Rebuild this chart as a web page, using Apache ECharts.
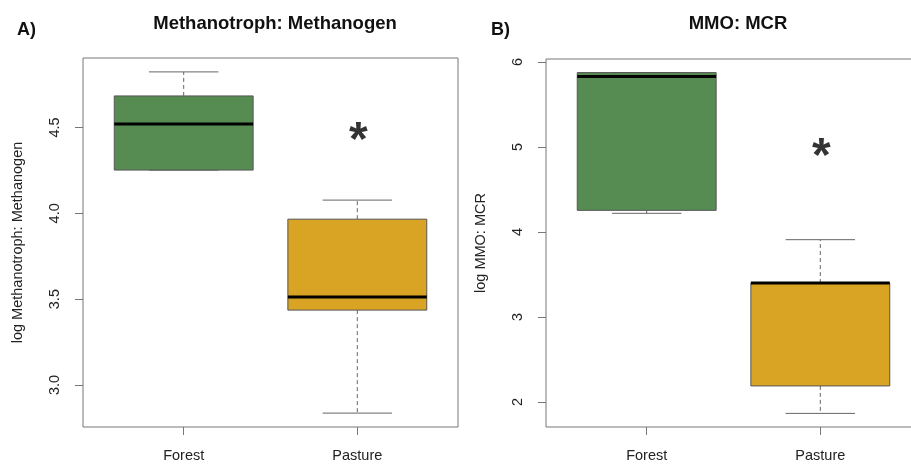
<!DOCTYPE html>
<html>
<head>
<meta charset="utf-8">
<script src="https://cdn.jsdelivr.net/npm/echarts@6/dist/echarts.min.js"></script>
<style>
html,body{margin:0;padding:0;background:#fff;}
#chart{width:911px;height:466px;}
</style>
</head>
<body>
<div id="chart"></div>
<script>
// ---- data ----
const categories = ['Forest', 'Pasture'];
// [lower whisker, Q1, median, Q3, upper whisker]
const ratioForest = [4.252, 4.252, 4.520, 4.684, 4.824];
const ratioPasture = [2.836, 3.436, 3.512, 3.966, 4.077];
const ratioOutliers = [[1, 3.337]];
const mmoForest = [4.22, 4.255, 5.83, 5.875, 5.875];
const mmoPasture = [1.867, 2.19, 3.40, 3.40, 3.91];
const ratioTicks = [3.0, 3.5, 4.0, 4.5];
const mmoTicks = [2, 3, 4, 5, 6];
const ratioRange = [2.755, 4.905];
const mmoRange = [1.707, 6.035];
const starsRatio = [[2, 4.5]];
const starsMMO = [[2, 5.04]];
const titles = ['Methanotroph: Methanogen', 'MMO: MCR'];
const yNames = ['log Methanotroph: Methanogen', 'log MMO: MCR'];
const panelTags = ['A)', 'B)'];

// ---- styling ----
const FONT = 'Liberation Sans, Arial, Helvetica, sans-serif';
const boxColors = ['#568b52', '#d9a423'];
const frameColor = '#777';

function boxRows(a, b) {
  return [[1].concat(a), [2].concat(b)];
}

function renderBox(params, api) {
  const x = api.value(0);
  const low = api.coord([x, api.value(1)]);
  const q1 = api.coord([x, api.value(2)]);
  const med = api.coord([x, api.value(3)]);
  const q3 = api.coord([x, api.value(4)]);
  const high = api.coord([x, api.value(5)]);
  const w = api.size([0.8, 0])[0];
  const cw = api.size([0.4, 0])[0];
  const cx = med[0];
  const color = boxColors[Math.round(x) - 1];
  const wStyle = { stroke: '#666', lineWidth: 1, lineDash: [4, 3] };
  const cStyle = { stroke: '#666', lineWidth: 1 };
  return {
    type: 'group',
    children: [
      { type: 'line', shape: { x1: cx, y1: q3[1], x2: cx, y2: high[1] }, style: wStyle },
      { type: 'line', shape: { x1: cx, y1: q1[1], x2: cx, y2: low[1] }, style: wStyle },
      { type: 'line', shape: { x1: cx - cw / 2, y1: high[1], x2: cx + cw / 2, y2: high[1] }, style: cStyle },
      { type: 'line', shape: { x1: cx - cw / 2, y1: low[1], x2: cx + cw / 2, y2: low[1] }, style: cStyle },
      { type: 'rect', shape: { x: cx - w / 2, y: q3[1], width: w, height: q1[1] - q3[1] },
        style: { fill: color, stroke: '#555', lineWidth: 1 } },
      { type: 'line', shape: { x1: cx - w / 2, y1: med[1], x2: cx + w / 2, y2: med[1] },
        style: { stroke: '#000', lineWidth: 3 } }
    ]
  };
}

function xAxisCfg(gi) {
  return {
    type: 'value', gridIndex: gi, min: 0.42, max: 2.58,
    splitLine: { show: false },
    axisLine: { show: false },
    axisTick: { show: true, inside: false, length: 8, customValues: [1, 2], lineStyle: { color: frameColor } },
    axisLabel: { show: true, customValues: [1, 2], margin: 21,
      formatter: v => categories[Math.round(v) - 1] || '',
      fontFamily: FONT, fontSize: 14.5, color: '#222' }
  };
}

function yAxisCfg(gi, range, ticks, dec) {
  return {
    type: 'value', gridIndex: gi, min: range[0], max: range[1],
    splitLine: { show: false },
    axisLine: { show: false },
    axisTick: { show: true, inside: false, length: 8, customValues: ticks, lineStyle: { color: frameColor } },
    axisLabel: { show: true, customValues: ticks, rotate: 90, margin: 21,
      formatter: v => Number(v).toFixed(dec),
      fontFamily: FONT, fontSize: 14.5, color: '#222' },
    name: yNames[gi], nameLocation: 'middle', nameGap: 58, nameRotate: 90,
    nameTextStyle: { fontFamily: FONT, fontSize: 14.5, color: '#222' }
  };
}

function starSeries(xi, data) {
  return {
    type: 'scatter', xAxisIndex: xi, yAxisIndex: xi, data: data,
    symbolSize: 0, silent: true,
    label: { show: true, position: 'inside', formatter: '*', offset: [1, 14],
      fontFamily: FONT, fontWeight: 'bold', fontSize: 48, color: '#000' }
  };
}

const chart = echarts.init(document.getElementById('chart'), null, { renderer: 'canvas' });
chart.setOption({
  animation: false,
  backgroundColor: '#fff',
  title: [
    { text: titles[0], left: 270, top: 9, textAlign: 'center',
      textStyle: { fontFamily: FONT, fontWeight: 'bold', fontSize: 18.5, color: '#111' } },
    { text: titles[1], left: 733, top: 9, textAlign: 'center',
      textStyle: { fontFamily: FONT, fontWeight: 'bold', fontSize: 18.5, color: '#111' } },
    { text: panelTags[0], left: 12, top: 16,
      textStyle: { fontFamily: FONT, fontWeight: 'bold', fontSize: 18, color: '#111' } },
    { text: panelTags[1], left: 486, top: 16,
      textStyle: { fontFamily: FONT, fontWeight: 'bold', fontSize: 18, color: '#111' } }
  ],
  grid: [
    { left: 83, top: 58, width: 375, height: 369, outerBoundsMode: 'none', containLabel: false,
      show: true, borderColor: frameColor, borderWidth: 1, backgroundColor: 'transparent' },
    { left: 546, top: 59, width: 375, height: 368, outerBoundsMode: 'none', containLabel: false,
      show: true, borderColor: frameColor, borderWidth: 1, backgroundColor: 'transparent' }
  ],
  xAxis: [xAxisCfg(0), xAxisCfg(1)],
  yAxis: [yAxisCfg(0, ratioRange, ratioTicks, 1), yAxisCfg(1, mmoRange, mmoTicks, 0)],
  series: [
    { type: 'custom', xAxisIndex: 0, yAxisIndex: 0, renderItem: renderBox,
      data: boxRows(ratioForest, ratioPasture), encode: { x: 0, y: [1, 2, 3, 4, 5] }, clip: false },
    { type: 'scatter', xAxisIndex: 0, yAxisIndex: 0, data: ratioOutliers,
      symbol: 'emptyCircle', symbolSize: 8,
      itemStyle: { color: '#fff', borderColor: '#777', borderWidth: 1 } },
    starSeries(0, starsRatio),
    { type: 'custom', xAxisIndex: 1, yAxisIndex: 1, renderItem: renderBox,
      data: boxRows(mmoForest, mmoPasture), encode: { x: 0, y: [1, 2, 3, 4, 5] }, clip: false },
    starSeries(1, starsMMO)
  ]
});
</script>
</body>
</html>
